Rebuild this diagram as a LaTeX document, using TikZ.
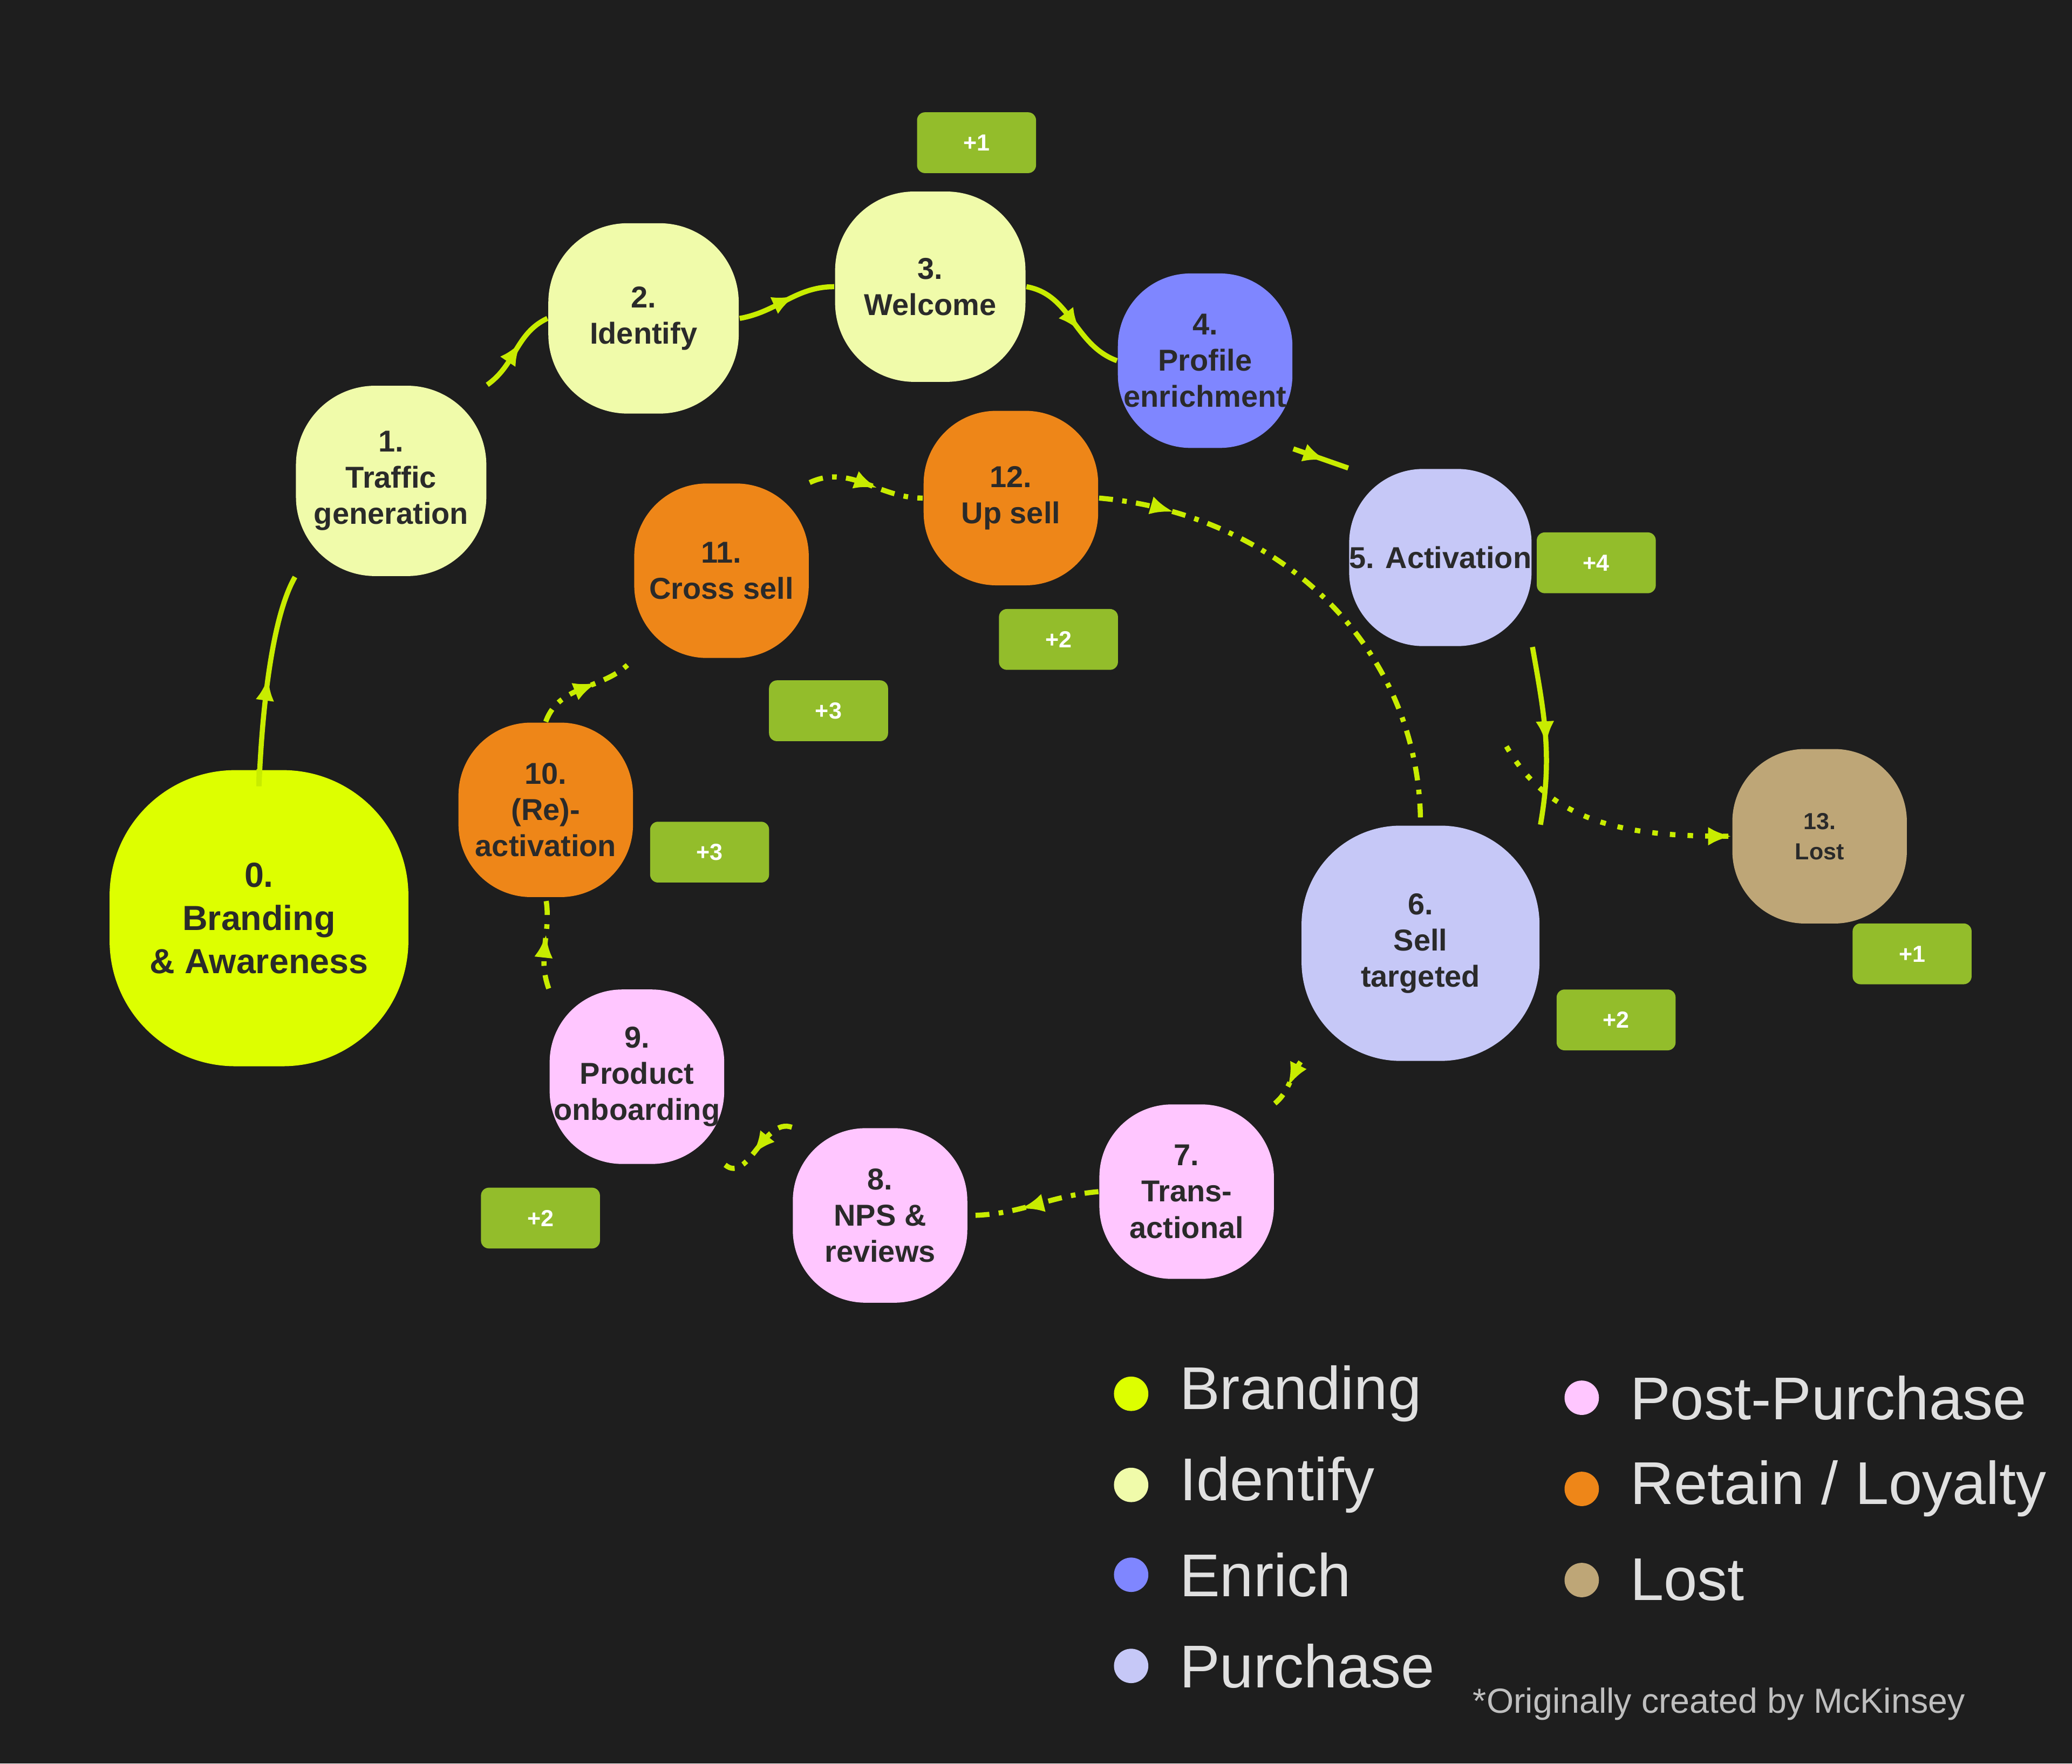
\documentclass[tikz,border=0pt]{standalone}
\usepackage{fontspec}
\setmainfont{Liberation Sans}
\usetikzlibrary{arrows.meta,decorations.markings}
\definecolor{bg}{HTML}{1E1E1E}
\definecolor{cbrand}{HTML}{DDFF00}
\definecolor{cident}{HTML}{F0FBAA}
\definecolor{cenrich}{HTML}{7F86FF}
\definecolor{cpurch}{HTML}{C6C8F7}
\definecolor{cpost}{HTML}{FFC6FF}
\definecolor{cret}{HTML}{EE8618}
\definecolor{clost}{HTML}{BEA677}
\definecolor{cbadge}{HTML}{93BD2B}
\definecolor{carr}{HTML}{C8EC00}
\definecolor{ctxt}{HTML}{2A2A2A}
\tikzset{
  st/.style={draw=none,fill=#1,text=ctxt,align=center,font=\bfseries\fontsize{6.5}{7.8}\selectfont,inner sep=0pt},
  s132/.style={minimum width=1.32cm,minimum height=1.32cm,rounded corners=0.55cm},
  s144/.style={minimum width=1.44cm,minimum height=1.44cm,rounded corners=0.6cm},
  badge/.style={fill=cbadge,minimum width=0.9cm,minimum height=0.46cm,rounded corners=0.06cm,text=white,font=\bfseries\fontsize{5}{6}\selectfont,inner sep=0pt},
  conn/.style={draw=carr,line width=1.1pt},
  dd/.style={conn,dash pattern=on 3pt off 2pt on 1pt off 2pt},
  ma/.style={postaction={decorate},decoration={markings,mark=at position #1 with {\arrow{Latex[length=5pt,width=4pt]}}}},
  leg/.style={font=\fontsize{13}{15}\selectfont,text=white!88!black,anchor=west,inner sep=0pt},
  dot/.style={circle,minimum size=0.26cm,inner sep=0pt,fill=#1},
}
\begin{document}
\begin{tikzpicture}[x=0.01cm,y=-0.01cm]
\fill[bg] (0,0) rectangle (1568,1335);
\useasboundingbox (0,0) rectangle (1568,1335);
% nodes
\node[st=cbrand,minimum width=2.26cm,minimum height=2.24cm,rounded corners=0.95cm,font=\bfseries\fontsize{7.5}{9.3}\selectfont] (n0) at (196,695) {0.\\Branding\\\& Awareness};
\node[st=cident,s144] (n1) at (296,364) {1.\\Traffic\\generation};
\node[st=cident,s144] (n2) at (487,241) {2.\\Identify};
\node[st=cident,s144] (n3) at (704,217) {3.\\Welcome};
\node[st=cenrich,s132] (n4) at (912,273) {4.\\Profile\\enrichment};
\node[st=cpurch,minimum width=1.34cm,minimum height=1.34cm,rounded corners=0.56cm] (n5) at (1090,422) {5. Activation};
\node[st=cpurch,minimum width=1.8cm,minimum height=1.78cm,rounded corners=0.75cm] (n6) at (1075,714) {6.\\Sell\\targeted};
\node[st=cpost,s132] (n7) at (898,902) {7.\\Trans-\\actional};
\node[st=cpost,s132] (n8) at (666,920) {8.\\NPS \&\\reviews};
\node[st=cpost,s132] (n9) at (482,815) {9.\\Product\\onboarding};
\node[st=cret,s132] (n10) at (413,613) {10.\\(Re)-\\activation};
\node[st=cret,s132] (n11) at (546,432) {11.\\Cross sell};
\node[st=cret,s132] (n12) at (765,377) {12.\\Up sell};
\node[st=clost,s132,font=\bfseries\fontsize{5}{6.5}\selectfont] (n13) at (1377,633) {13.\\Lost};
% badges
\node[badge] (b3) at (739,108) {+1};
\node[badge] (b5) at (1208,426) {+4};
\node[badge] (b12) at (801,484) {+2};
\node[badge] (b11) at (627,538) {+3};
\node[badge] (b10) at (537,645) {+3};
\node[badge] (b13) at (1447,722) {+1};
\node[badge] (b6) at (1223,772) {+2};
\node[badge] (b9) at (409,922) {+2};
% solid path
\draw[conn,ma=0.55] (n0.north) to[out=-90,in=240] (n1.south west);
\draw[conn,ma=0.6] (n1.north east) to[out=35,in=205] (n2.west);
\draw[conn,ma=0.6] (n2.east) to[out=10,in=180] (n3.west);
\draw[conn,ma=0.6] (n3.east) to[out=-10,in=160] (n4.west);
\draw[conn,ma=0.6] (n4.south east) to (n5.north west);
\draw[conn,ma=0.55] (n5.south east) to[out=-80,in=80] (n6.north east);
% dotted to lost
\coordinate (lostStart) at (1140,565);
\draw[conn,dash pattern=on 1.2pt off 2.6pt,ma=1] (lostStart) to[out=-60,in=180] (n13.west);
% inner loop
\draw[dd,ma=0.55] (n6.south west) to[out=235,in=40] (n7.north east);
\draw[dd,ma=0.6] (n7.west) to[out=185,in=0] (n8.east);
\draw[dd,ma=0.6] (n8.north west) to[out=160,in=-40] (n9.south east);
\draw[dd,ma=0.6] (n9.north west) to[out=110,in=-80] (n10.south);
\draw[dd,ma=0.6] (n10.north) to[out=70,in=230] (n11.south west);
\draw[dd,ma=0.6] (n11.north east) to[out=25,in=180] (n12.west);
\draw[dd,ma=0.15] (n12.east) to[out=-5,in=90] (n6.north);
% legend
\node[dot=cbrand] (d1) at (856,1055) {}; \node[leg] at (892,1055) {Branding};
\node[dot=cident] (d2) at (856,1124) {}; \node[leg] at (892,1124) {Identify};
\node[dot=cenrich] (d3) at (856,1192) {}; \node[leg] at (892,1192) {Enrich};
\node[dot=cpurch] (d4) at (856,1261) {}; \node[leg] at (892,1261) {Purchase};
\node[dot=cpost] (d5) at (1197,1058) {}; \node[leg] at (1233,1058) {Post-Purchase};
\node[dot=cret] (d6) at (1197,1127) {}; \node[leg] at (1233,1127) {Retain / Loyalty};
\node[dot=clost] (d7) at (1197,1196) {}; \node[leg] at (1233,1196) {Lost};
\node[font=\fontsize{7.5}{9}\selectfont,text=white!75!black,anchor=west,inner sep=0pt] (foot) at (1114,1290) {*Originally created by McKinsey};
\end{tikzpicture}
\end{document}
